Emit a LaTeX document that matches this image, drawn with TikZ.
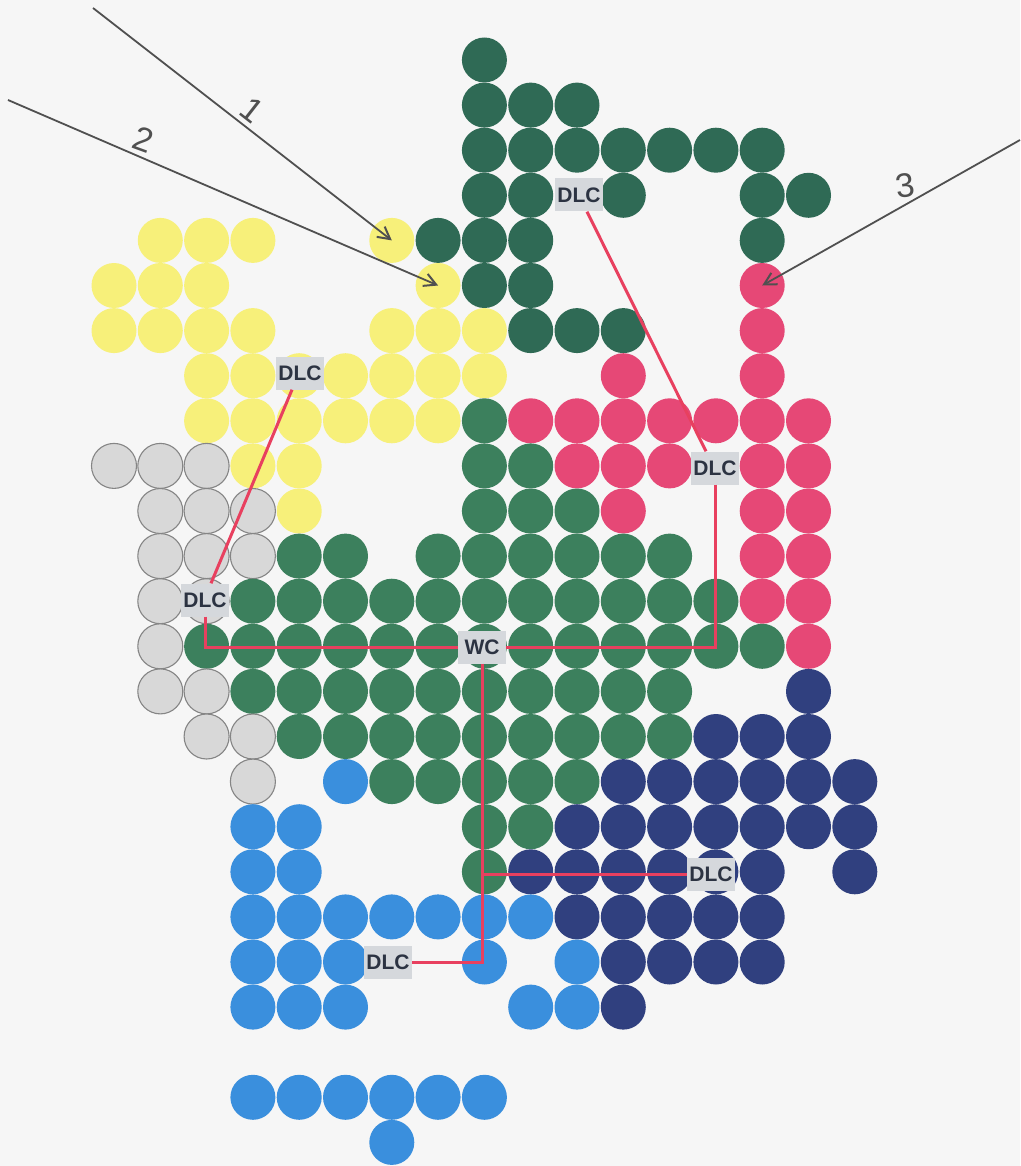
\documentclass[tikz,border=0pt]{standalone}
\usepackage{fontspec}
\setmainfont{Liberation Sans}
\usetikzlibrary{arrows.meta,calc}
\definecolor{bg}{HTML}{F6F6F6}
\definecolor{tg}{HTML}{2F6A55}
\definecolor{mg}{HTML}{3C805D}
\definecolor{ye}{HTML}{F7F07A}
\definecolor{rd}{HTML}{E64876}
\definecolor{sv}{HTML}{D8D8D8}
\definecolor{svd}{HTML}{858585}
\definecolor{nv}{HTML}{30407F}
\definecolor{bl}{HTML}{3A8FDD}
\definecolor{wire}{HTML}{E8405F}
\definecolor{labbg}{HTML}{D5D8DC}
\definecolor{labtx}{HTML}{2C3342}
\definecolor{pencil}{HTML}{505050}
\begin{document}
\begin{tikzpicture}[x=1pt,y=-1pt,
  dot/.style={circle,minimum size=45pt,inner sep=0pt},
  lab/.style={rectangle,fill=labbg,text=labtx,minimum width=48pt,minimum height=33pt,inner sep=0pt,font=\fontsize{21}{21}\selectfont\bfseries},
  wirestyle/.style={wire,line width=3pt},
  pencilarrow/.style={pencil,line width=1.8pt,-{Straight Barb[length=12pt,width=13pt,line width=2pt]}},
  hand/.style={text=pencil,font=\fontsize{34}{34}\selectfont}]
\fill[bg] (0,0) rectangle (1020,1166);
\useasboundingbox (0,0) rectangle (1020,1166);

% circles: row / column list / fill / outline
\foreach \r/\cs/\fc/\dc in {
  0/{8}/tg/none,
  1/{8,...,10}/tg/none,
  2/{8,...,14}/tg/none,
  3/{8,9,11,14,15}/tg/none,
  4/{1,2,3,6}/ye/none, 4/{7,8,9,14}/tg/none,
  5/{0,1,2,7}/ye/none, 5/{8,9}/tg/none, 5/{14}/rd/none,
  6/{0,1,2,3,6,7,8}/ye/none, 6/{9,10,11}/tg/none, 6/{14}/rd/none,
  7/{2,...,8}/ye/none, 7/{11,14}/rd/none,
  8/{2,...,7}/ye/none, 8/{8}/mg/none, 8/{9,...,15}/rd/none,
  9/{0,1,2}/sv/svd, 9/{3,4}/ye/none, 9/{8,9}/mg/none, 9/{10,11,12,14,15}/rd/none,
  10/{1,2,3}/sv/svd, 10/{4}/ye/none, 10/{8,9,10}/mg/none, 10/{11,14,15}/rd/none,
  11/{1,2,3}/sv/svd, 11/{4,5,7,8,9,10,11,12}/mg/none, 11/{14,15}/rd/none,
  12/{1,2}/sv/svd, 12/{3,...,13}/mg/none, 12/{14,15}/rd/none,
  13/{1}/sv/svd, 13/{2,...,14}/mg/none, 13/{15}/rd/none,
  14/{1,2}/sv/svd, 14/{3,...,12}/mg/none, 14/{15}/nv/none,
  15/{2,3}/sv/svd, 15/{4,...,12}/mg/none, 15/{13,14,15}/nv/none,
  16/{3}/sv/svd, 16/{5}/bl/none, 16/{6,...,10}/mg/none, 16/{11,...,16}/nv/none,
  17/{3,4}/bl/none, 17/{8,9}/mg/none, 17/{10,...,16}/nv/none,
  18/{3,4}/bl/none, 18/{8}/mg/none, 18/{9,...,14,16}/nv/none,
  19/{3,...,9}/bl/none, 19/{10,...,14}/nv/none,
  20/{3,4,5,8,10}/bl/none, 20/{11,...,14}/nv/none,
  21/{3,4,5,9,10}/bl/none, 21/{11}/nv/none,
  23/{3,...,8}/bl/none,
  24/{6}/bl/none}
{
  \foreach \c in \cs {
    \node[dot,fill=\fc,draw=\dc,line width=1.1pt] (d-\r-\c) at ({114+46.3*\c},{60+45.1*\r}) {};
  }
}

% labels
\node[lab] (tdlc) at (579,195) {DLC};
\node[lab] (rdlc) at (715,468) {DLC};
\node[lab] (ydlc) at (300,373) {DLC};
\node[lab] (gdlc) at (205,600) {DLC};
\node[lab] (wc)   at (482,647) {WC};
\node[lab] (ndlc) at (711,874) {DLC};
\node[lab] (bdlc) at (388,962) {DLC};

% red connectors
\draw[wirestyle] ([xshift=8pt]tdlc.south) -- ([xshift=-9pt]rdlc.north);
\draw[wirestyle] (rdlc.south) |- (wc.east);
\draw[wirestyle] (gdlc.south) |- (wc.west);
\draw[wirestyle] ([xshift=-8pt]ydlc.south) -- ([xshift=6pt]gdlc.north);
\draw[wirestyle] (wc.south) |- (bdlc.east);
\draw[wirestyle] (wc.south |- ndlc.west) -- (ndlc.west);

% pencil arrows
\coordinate (s1) at (93,8);
\coordinate (s2) at (8,100);
\coordinate (s3) at (1020,140);
\draw[pencilarrow] (s1) -- (d-4-6.center);
\draw[pencilarrow] (s2) -- (d-5-7.center);
\draw[pencilarrow] (s3) -- (d-5-14.center);
\node[hand,rotate=-38] (l1) at (252,110) {1};
\node[hand,rotate=-20] (l2) at (143,140) {2};
\node[hand,rotate=8] (l3) at (905,186) {3};
\end{tikzpicture}
\end{document}
